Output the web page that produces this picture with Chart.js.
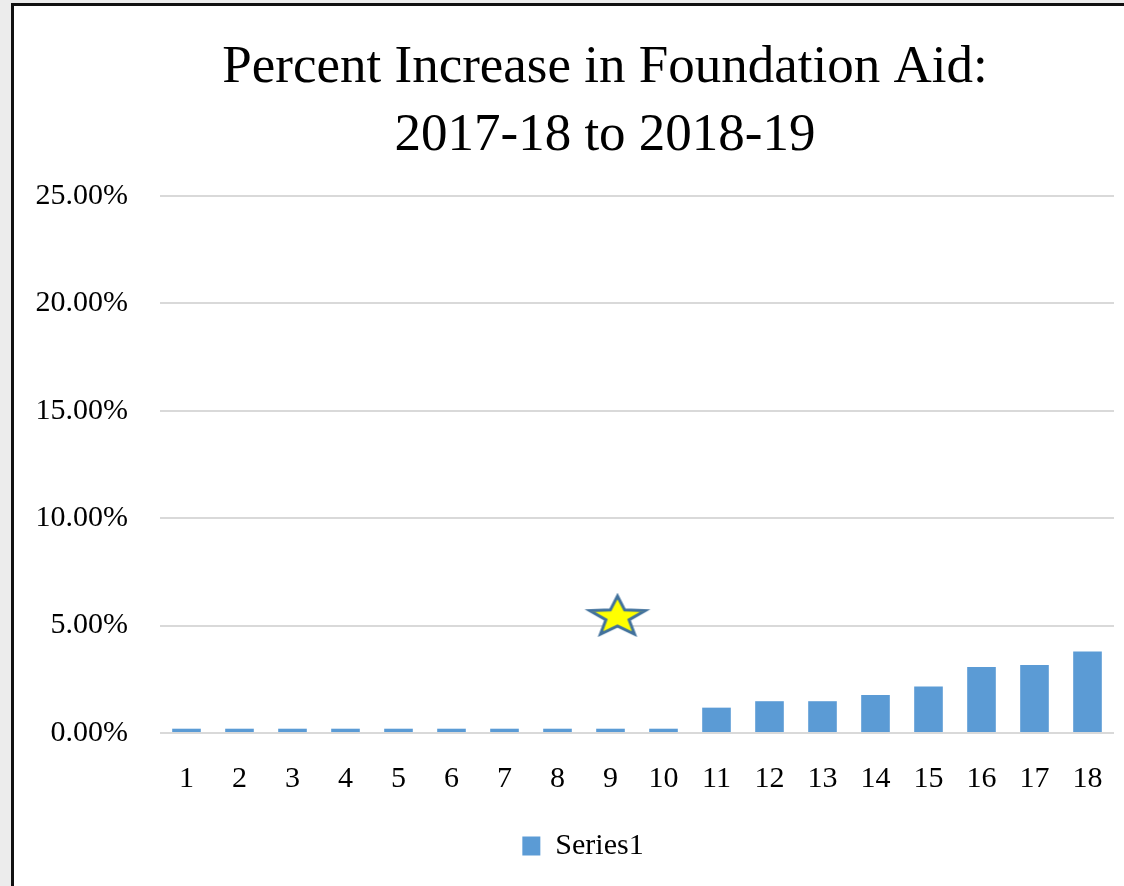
<!DOCTYPE html>
<html>
<head>
<meta charset="utf-8">
<script src="https://cdn.jsdelivr.net/npm/chart.js@4"></script>
<style>
  html, body { margin: 0; padding: 0; background: #ececec; overflow: hidden; }
  #frame {
    position: absolute; left: 11px; top: 3px; width: 1120px; height: 890px;
    border-left: 3px solid #111; border-top: 3px solid #111; background: #fff;
  }
  #wrap { position: absolute; left: 0; top: 0; width: 1110px; height: 880px; }
</style>
</head>
<body>
<div id="frame"><div id="wrap"><canvas id="myChart"></canvas></div></div>
<script>
const categories = ['1', '2', '3', '4', '5', '6', '7', '8', '9', '10', '11', '12', '13', '14', '15', '16', '17', '18'];
const increases = [0.2, 0.2, 0.2, 0.2, 0.2, 0.2, 0.2, 0.2, 0.2, 0.2, 1.18, 1.48, 1.48, 1.77, 2.17, 3.07, 3.17, 3.79];
const starMark = [null, null, null, null, null, null, null, null, 5.49, null, null, null, null, null, null, null, null, null];
const yTicks = [0, 5, 10, 15, 20, 25];

const font = "'Liberation Serif', 'DejaVu Serif', serif";

// star image used as point style (sits a little right of the category centre)
const star = document.createElement('canvas');
star.width = 90; star.height = 44;
(function () {
    const c = star.getContext('2d');
    const cx = 52, cy = 24, rx = 29, ry = 21, k = 0.42;
    c.beginPath();
    for (let i = 0; i < 10; i++) {
        const f = i % 2 ? k : 1;
        const a = -Math.PI / 2 + i * Math.PI / 5;
        c.lineTo(cx + rx * f * Math.cos(a), cy + ry * f * Math.sin(a));
    }
    c.closePath();
    c.fillStyle = '#ffff00';
    c.fill();
    c.lineWidth = 3;
    c.strokeStyle = '#41719c';
    c.stroke();
})();

// title and legend are not centred on the canvas in the original
const nudge = {
    id: 'nudge',
    afterLayout(c) {
        c.titleBlock.left += 82;
        c.legend.left += 38;
    }
};

const ctx = document.getElementById('myChart').getContext('2d');

const chart = new Chart(ctx, {
    type: 'bar',
    data: {
        labels: categories,
        datasets: [{
            label: 'Series1',
            data: increases,
            backgroundColor: '#5b9bd5',
            categoryPercentage: 1,
            barPercentage: 0.54,
            order: 2
        }, {
            type: 'line',
            label: 'star',
            data: starMark,
            showLine: false,
            pointStyle: star,
            order: 1
        }]
    },
    options: {
        maintainAspectRatio: false,
        responsive: true,
        animation: false,
        layout: { padding: { left: 0, right: 10, top: 28, bottom: 15 } },
        plugins: {
            title: {
                display: true,
                text: ['Percent Increase in Foundation Aid:', '2017-18 to 2018-19'],
                color: '#000',
                font: { family: font, size: 53, weight: 'normal', lineHeight: 1.283 },
                padding: { top: 0, bottom: 26 }
            },
            legend: {
                position: 'bottom',
                labels: {
                    color: '#000',
                    font: { family: font, size: 30 },
                    boxWidth: 18,
                    boxHeight: 19,
                    padding: 10,
                    filter: item => item.text === 'Series1'
                }
            },
            tooltip: { enabled: false }
        },
        scales: {
            x: {
                afterFit: s => { s.height = 88; },
                grid: { display: false },
                border: { display: false },
                ticks: { color: '#000', font: { family: font, size: 30 }, padding: 20 }
            },
            y: {
                min: 0,
                max: 25,
                afterFit: s => { s.width = 146; },
                afterBuildTicks: s => { s.ticks = yTicks.map(v => ({ value: v })); },
                grid: { color: '#d9d9d9', lineWidth: 2, drawTicks: false },
                border: { display: false },
                ticks: {
                    color: '#000',
                    font: { family: font, size: 30 },
                    padding: 32,
                    callback: v => v.toFixed(2) + '%'
                }
            }
        }
    },
    plugins: [nudge]
});
</script>
</body>
</html>
